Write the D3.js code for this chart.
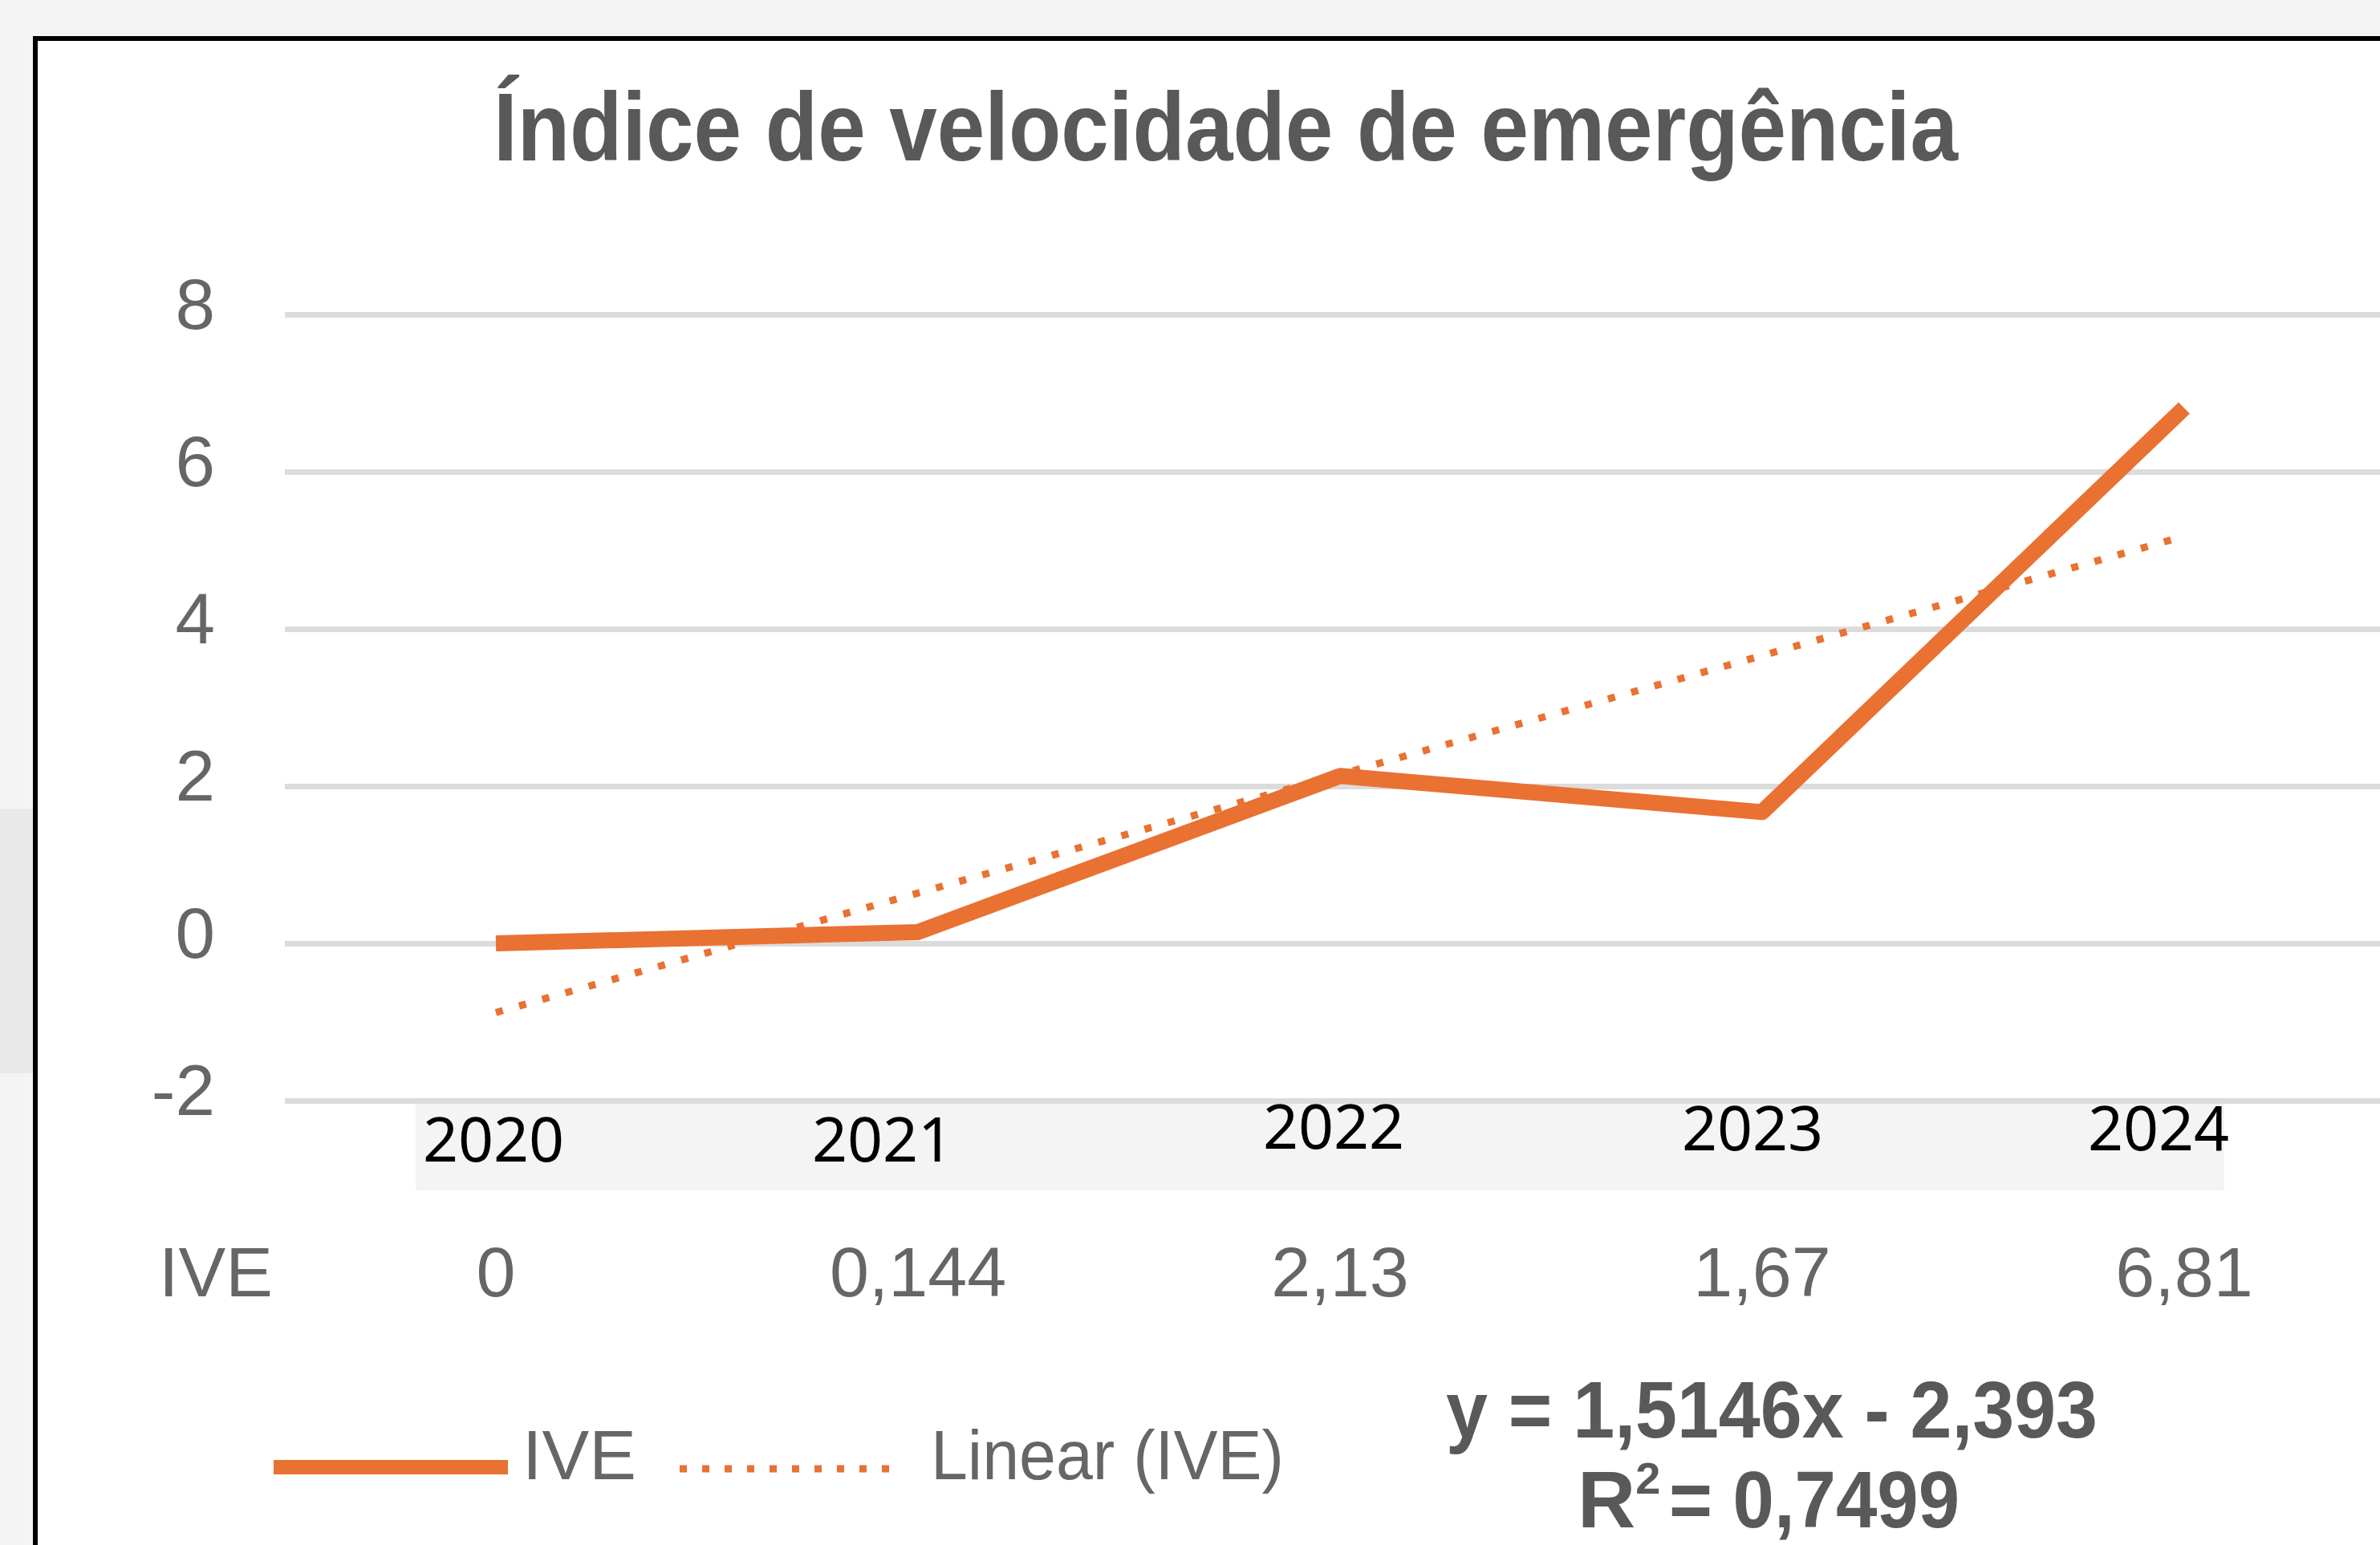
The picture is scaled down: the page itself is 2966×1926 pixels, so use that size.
<!DOCTYPE html>
<html lang="pt-br">
<head>
    <meta charset="UTF-8">
    <title>Índice de velocidade de emergência</title>
    <script src="https://d3js.org/d3.v7.min.js"></script>
    <style>
        body {
            margin: 0;
            padding: 0;
            background-color: #f4f4f4;
            overflow: hidden;
        }
        svg { display: block; }
        text { font-family: "Liberation Sans", Arial, sans-serif; }
        .tick line { stroke: #dcdcdc; stroke-width: 7; }
        .tick text { fill: #666; font-size: 89px; }
        .year { font-family: "Noto Sans", sans-serif; font-size: 77px; fill: #000; }
        .tbl { font-size: 88px; fill: #666; }
    </style>
</head>
<body>
    <svg id="chart" width="2966" height="1926"></svg>

    <script>
        // dados
        const chartTitle = "Índice de velocidade de emergência";
        const years = ["2020", "2021", "2022", "2023", "2024"];
        const iveValues = [0, 0.144, 2.13, 1.67, 6.81];
        const iveLabels = ["0", "0,144", "2,13", "1,67", "6,81"];
        const trendValues = [-0.88, 0.64, 2.15, 3.66, 5.18];
        const yTicks = [-2, 0, 2, 4, 6, 8];
        const equationText = "y = 1,5146x - 2,393";
        const r2Text = "0,7499";

        // pequenos ajustes dos rótulos de ano (dx, dy)
        const yearNudge = [[-3, 0], [-44, 0], [-8, -16], [-12, -14], [-32, -14]];

        const orange = "#E97132";
        const grey = "#595959";

        const svg = d3.select("#chart");

        // faixa mais escura do fundo à esquerda
        svg.append("rect")
            .attr("x", 0).attr("y", 1008)
            .attr("width", 44).attr("height", 330)
            .attr("fill", "#e9e9e9");

        // moldura preta
        svg.append("rect")
            .attr("x", 44).attr("y", 48)
            .attr("width", 3100).attr("height", 2100)
            .attr("fill", "#fff")
            .attr("stroke", "#000")
            .attr("stroke-width", 6);

        svg.append("text")
            .attr("x", 615).attr("y", 200)
            .attr("textLength", 1825)
            .attr("lengthAdjust", "spacingAndGlyphs")
            .style("font-size", "120px")
            .style("font-weight", "bold")
            .attr("fill", grey)
            .text(chartTitle);

        const x = d3.scalePoint()
            .domain(years)
            .range([355, 2985])
            .padding(0.5);

        const y = d3.scaleLinear()
            .domain([-2, 8])
            .range([1372, 392]);

        const yAxis = svg.append("g")
            .attr("transform", "translate(355,0)")
            .call(d3.axisLeft(y)
                .tickValues(yTicks)
                .tickSizeInner(-(2985 - 355))
                .tickSizeOuter(0)
                .tickPadding(87)
                .tickFormat(d => d));
        yAxis.select(".domain").remove();
        yAxis.selectAll(".tick text").attr("dy", "0.2em");

        // caixa cinza atrás dos anos
        svg.append("rect")
            .attr("x", 518).attr("y", 1376)
            .attr("width", 2254).attr("height", 108)
            .attr("fill", "#f4f4f4");

        svg.selectAll(".year")
            .data(years)
            .enter().append("text")
            .attr("class", "year")
            .attr("x", (d, i) => x(d) + yearNudge[i][0])
            .attr("y", (d, i) => 1448 + yearNudge[i][1])
            .attr("text-anchor", "middle")
            .text(d => d);

        const line = d3.line()
            .x((d, i) => x(years[i]))
            .y(d => y(d));

        // linha de tendência pontilhada
        svg.append("path")
            .datum(trendValues)
            .attr("d", line)
            .attr("fill", "none")
            .attr("stroke", orange)
            .attr("stroke-width", 9)
            .attr("stroke-dasharray", "9 21");

        // série IVE
        svg.append("path")
            .datum(iveValues)
            .attr("d", line)
            .attr("fill", "none")
            .attr("stroke", orange)
            .attr("stroke-width", 20)
            .attr("stroke-linejoin", "round");

        // tabela de dados
        svg.append("text")
            .attr("class", "tbl")
            .attr("x", 198).attr("y", 1616)
            .text("IVE");
        svg.selectAll(".val")
            .data(iveLabels)
            .enter().append("text")
            .attr("class", "tbl val")
            .attr("x", (d, i) => x(years[i]))
            .attr("y", 1616)
            .attr("text-anchor", "middle")
            .text(d => d);

        // legenda
        svg.append("line")
            .attr("x1", 341).attr("x2", 633)
            .attr("y1", 1829).attr("y2", 1829)
            .attr("stroke", orange).attr("stroke-width", 18);
        svg.append("text")
            .attr("class", "tbl")
            .attr("x", 651).attr("y", 1844)
            .text("IVE");
        svg.append("line")
            .attr("x1", 847).attr("x2", 1127)
            .attr("y1", 1831).attr("y2", 1831)
            .attr("stroke", orange).attr("stroke-width", 9)
            .attr("stroke-dasharray", "9 19");
        svg.append("text")
            .attr("class", "tbl")
            .attr("x", 1160).attr("y", 1844)
            .attr("textLength", 440)
            .attr("lengthAdjust", "spacingAndGlyphs")
            .text("Linear (IVE)");

        // equação e R²
        svg.append("text")
            .attr("x", 1802).attr("y", 1792)
            .attr("textLength", 812)
            .attr("lengthAdjust", "spacingAndGlyphs")
            .style("font-size", "100px")
            .style("font-weight", "bold")
            .attr("fill", grey)
            .text(equationText);

        const r2 = svg.append("text")
            .attr("x", 1966).attr("y", 1904)
            .style("font-size", "100px")
            .style("font-weight", "bold")
            .attr("fill", grey);
        r2.append("tspan").text("R");
        r2.append("tspan")
            .attr("dy", -42)
            .style("font-size", "56px")
            .text("2");
        r2.append("tspan")
            .attr("x", 2080).attr("dy", 42)
            .attr("textLength", 362)
            .attr("lengthAdjust", "spacingAndGlyphs")
            .text("= " + r2Text);
    </script>
</body>
</html>
